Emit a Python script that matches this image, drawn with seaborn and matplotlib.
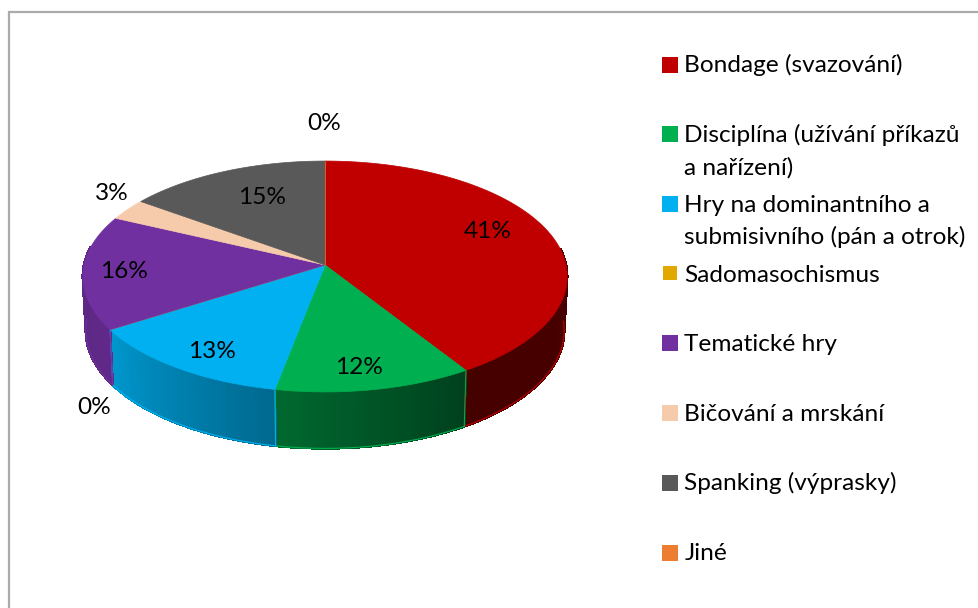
import numpy as np
import matplotlib
matplotlib.use("Agg")
import matplotlib.pyplot as plt
import seaborn as sns

categories = ["Bondage (svazování)", "Disciplína (užívání příkazů\na nařízení)",
              "Hry na dominantního a\nsubmisivního (pán a otrok)", "Sadomasochismus",
              "Tematické hry", "Bičování a mrskání", "Spanking (výprasky)", "Jiné"]
values = [41, 12, 13, 0, 16, 3, 15, 0]
colors = ["#C00000", "#00B050", "#00B0F0", "#E0A800", "#7030A0", "#F6CBAC", "#595959", "#ED7D31"]

sns.set_theme(style="white")
plt.rcParams['font.family'] = ['Lato', 'DejaVu Sans']
palette = sns.color_palette(colors)

# legend rows: square centre y, text baselines
legend_y = [65, 134, 204, 273, 343, 413, 483, 553]
legend_base = [[72], [142, 175], [212, 244], [282], [351], [421], [490], [560]]

# value labels in pixel positions
label_pos = [(488, 232), (359, 368), (212, 351), (324, 124), (124, 272), (112, 193), (262, 198), (94, 407)]
label_order = [0, 1, 2, 7, 4, 5, 6, 3]

FS = 17.6


def top_xy(t):
    # perspective projection of the top disc, t clockwise from 12 o'clock
    X, Y = np.sin(t), np.cos(t)
    w = 1 + 0.0995 * Y
    return 325 + 241 * X / w, 265 - 114.3 * Y / w


def bottom_xy(t):
    X, Y = np.sin(t), np.cos(t)
    w = 1 + 0.0995 * Y
    return 325 + 238 * X / w, 319 - 116.5 * Y / w


def shade(t):
    return np.interp(np.degrees(t), [90, 147, 192, 238, 275], [0.38, 0.36, 0.60, 0.86, 0.82])


fig, ax = plt.subplots(figsize=(9.79, 6.08), dpi=100)
ax.set_position([0, 0, 1, 1])
ax.set_xlim(0, 979)
ax.set_ylim(608, 0)
ax.axis("off")

# chart frame
ax.plot([9, 9, 979], [608, 11.5, 11.5], color="#ABABAB", lw=1.6, solid_joinstyle="miter")

fracs = np.array(values) / sum(values)
edges = np.concatenate([[0], np.cumsum(fracs)]) * 2 * np.pi

# side wall, back to front
for i, col in enumerate(palette):
    t0, t1 = edges[i], edges[i + 1]
    if t1 <= t0:
        continue
    n = max(int((t1 - t0) / 0.02), 2)
    ts = np.linspace(t0, t1, n + 1)
    for a, b in zip(ts[:-1], ts[1:]):
        tm = (a + b) / 2
        if np.cos(tm) > 0.15:
            continue
        c = tuple(np.array(col) * shade(tm))
        xa, ya = top_xy(a)
        xb, yb = top_xy(b)
        xc, yc = bottom_xy(b)
        xd, yd = bottom_xy(a)
        ax.fill([xa, xb, xc, xd], [ya, yb, yc, yd], color=c, lw=1.2, zorder=2, antialiased=False)
    # lit rim along the base
    front = ts[np.cos(ts) < 0.0]
    if len(front):
        bx, by = bottom_xy(front)
        ax.plot(bx, by, color=col, lw=0.8, zorder=3)
        for e in (t0, t1):
            if np.cos(e) < -0.3:
                xa, ya = top_xy(e)
                xb, yb = bottom_xy(e)
                ax.plot([xa, xb], [ya, yb], color=col, lw=0.7, zorder=3)

# top surface
for i, col in enumerate(palette):
    ts = np.linspace(edges[i], edges[i + 1], 200)
    x, y = top_xy(ts)
    ax.fill(np.r_[325, x], np.r_[265, y], facecolor=col, edgecolor=col, lw=0.5, zorder=4)

for i in label_order:
    x, y = label_pos[i]
    ax.text(x, y, f"{values[i]}%", ha="center", va="center", fontsize=FS, color="black", zorder=6)

# legend
for i, name in enumerate(categories):
    size = 14 if values[i] == 0 and i == 3 else 16
    ax.add_patch(plt.Rectangle((670 - size / 2, legend_y[i] - size / 2), size, size,
                               facecolor=palette[i], edgecolor="none"))
    for line, yb in zip(name.split("\n"), legend_base[i]):
        ax.text(684.5, yb, line, ha="left", va="baseline", fontsize=FS, color="black")

fig.savefig("out.png", dpi=100, facecolor="white")
